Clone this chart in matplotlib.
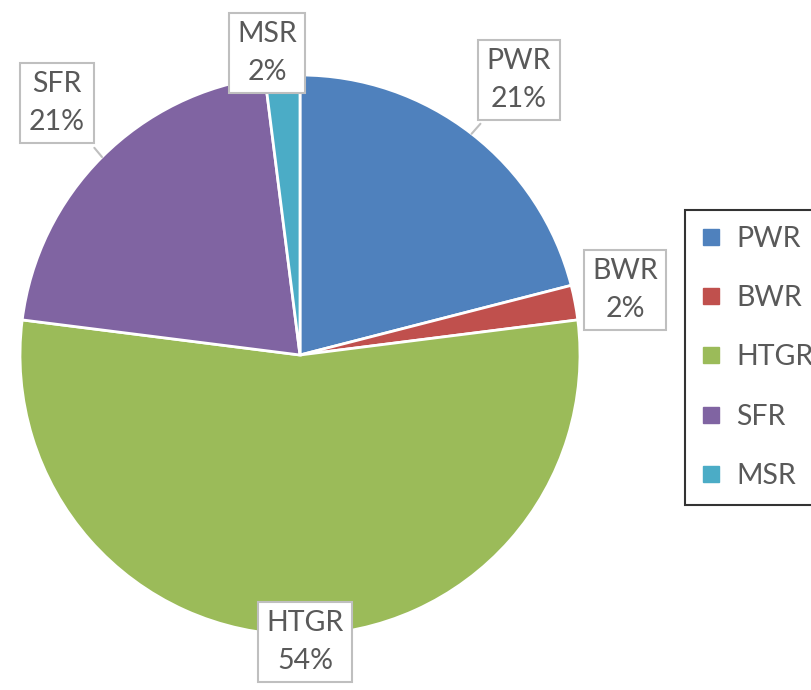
import numpy as np
import matplotlib
matplotlib.use("Agg")
import matplotlib.pyplot as plt
from matplotlib.lines import Line2D

reactors = ["PWR", "BWR", "HTGR", "SFR", "MSR"]
shares = [21, 2, 54, 21, 2]
colors = ["#4F81BD", "#C0504D", "#9BBB59", "#8064A2", "#4BACC6"]

# label box centres in pixels (from top-left)
label_pos = [(519, 80), (625, 290), (305, 642), (57, 103), (267, 53)]
show_leader = [True, False, False, True, False]

plt.rcParams["font.family"] = ["Lato", "DejaVu Sans"]
text_gray = "#595959"

W, H = 812, 690
fig = plt.figure(figsize=(W / 100, H / 100), dpi=100)
ax = fig.add_axes([0, 0, 1, 1])

cx, cy, r = 300, H - 355, 280
wedges, _ = ax.pie(shares, colors=colors, startangle=90, counterclock=False,
                   center=(cx, cy), radius=r,
                   wedgeprops=dict(edgecolor="white", linewidth=2))
ax.set_xlim(0, W)
ax.set_ylim(0, H)
ax.set_aspect("equal")
ax.axis("off")

for w, name, val, (lx, ly), lead in zip(wedges, reactors, shares, label_pos, show_leader):
    mid = np.deg2rad((w.theta1 + w.theta2) / 2)
    ex, ey = cx + r * np.cos(mid), cy + r * np.sin(mid)
    ty = H - ly
    if lead:
        ax.annotate("", xy=(ex, ey), xytext=(lx, ty),
                    arrowprops=dict(arrowstyle="-", color="#BFBFBF", lw=1.5,
                                    shrinkA=42, shrinkB=0))
    ax.text(lx, ty, f"{name}\n{val}%", ha="center", va="center", fontsize=20.5,
            color=text_gray, linespacing=1.55,
            bbox=dict(boxstyle="square,pad=0.3", fc="white", ec="#BFBFBF", lw=1.5))

handles = [Line2D([], [], marker="s", linestyle="none", markersize=11,
                  markerfacecolor=c, markeredgecolor=c) for c in colors]
leg = fig.legend(handles, reactors, loc="upper left",
                 bbox_to_anchor=(685 / W, 1 - 210 / H), fontsize=20.5,
                 frameon=True, fancybox=False, edgecolor="black",
                 labelspacing=1.17, handlelength=0.7, handletextpad=0.55,
                 borderpad=0.55, borderaxespad=0)
leg.get_frame().set_linewidth(1.5)
for t in leg.get_texts():
    t.set_color(text_gray)

fig.savefig("out.png", dpi=100)
